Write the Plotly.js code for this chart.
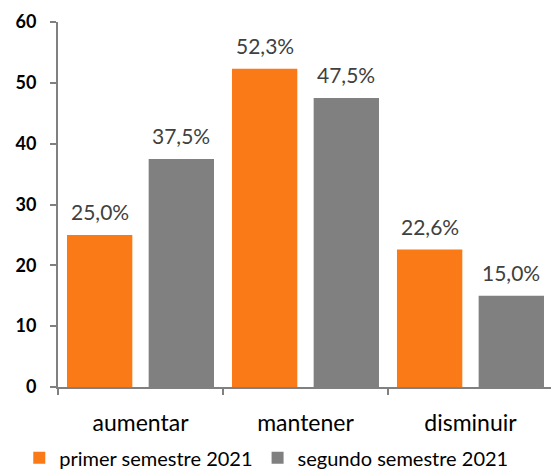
<!DOCTYPE html>
<html><head><meta charset="utf-8">
<script src="https://cdn.plot.ly/plotly-3.0.1.min.js"></script>
<style>html,body{margin:0;padding:0;background:#fff}#c{width:551px;height:473px}</style>
</head><body><div id="c"></div>
<script>
var categories = ["aumentar", "mantener", "disminuir"];
var primerSemestre = [25.0, 52.3, 22.6];
var segundoSemestre = [37.5, 47.5, 15.0];
var seriesNames = ["primer semestre 2021", "segundo semestre 2021"];

var font = "Lato, 'Open Sans', sans-serif";
var bargap = 0.01;
function mk(vals, name, color) {
  return {
    type: "bar", x: categories, y: vals, name: name,
    marker: {color: color}, hoverinfo: "skip"
  };
}
var data = [mk(primerSemestre, seriesNames[0], "#FA7A17"), mk(segundoSemestre, seriesNames[1], "#808080")];

var annotations = [];
var off = (1 - bargap) / 4;
[primerSemestre, segundoSemestre].forEach(function (vals, s) {
  vals.forEach(function (v, i) {
    annotations.push({
      x: i + (s === 0 ? -off : off), y: v, xref: "x", yref: "y",
      text: v.toFixed(1).replace(".", ",") + "%",
      showarrow: false, yanchor: "bottom", yshift: 9,
      font: {family: font, size: 21, color: "#404040"}
    });
  });
});

var layout = {
  width: 551, height: 473,
  margin: {l: 58, r: 0, t: 22, b: 86},
  paper_bgcolor: "#fff", plot_bgcolor: "#fff",
  bargap: bargap, bargroupgap: 0.2,
  showlegend: true,
  annotations: annotations,
  legend: {orientation: "h", xref: "container", yref: "container", x: 0.035, y: 0.032, xanchor: "left", yanchor: "middle",
    font: {family: font, size: 20, color: "#000"}, itemwidth: 30, traceorder: "normal"},
  xaxis: {range: [-0.5, 2.488], tickson: "boundaries", ticks: "outside", ticklen: 6, tickcolor: "#808080",
    showline: true, linecolor: "#808080", linewidth: 2, tickwidth: 2,
    tickfont: {family: font, size: 23, color: "#000"}, ticklabelstandoff: 14, fixedrange: true},
  yaxis: {range: [0, 60], dtick: 10, ticks: "outside", ticklen: 6, tickcolor: "#808080", tickwidth: 2,
    showline: true, linecolor: "#808080", linewidth: 2, showgrid: false, zeroline: false,
    tickfont: {family: font, size: 18, color: "#000", weight: "bold"}, ticklabelstandoff: 10, fixedrange: true}
};
Plotly.newPlot("c", data, layout, {displayModeBar: false, staticPlot: true});
</script></body></html>
